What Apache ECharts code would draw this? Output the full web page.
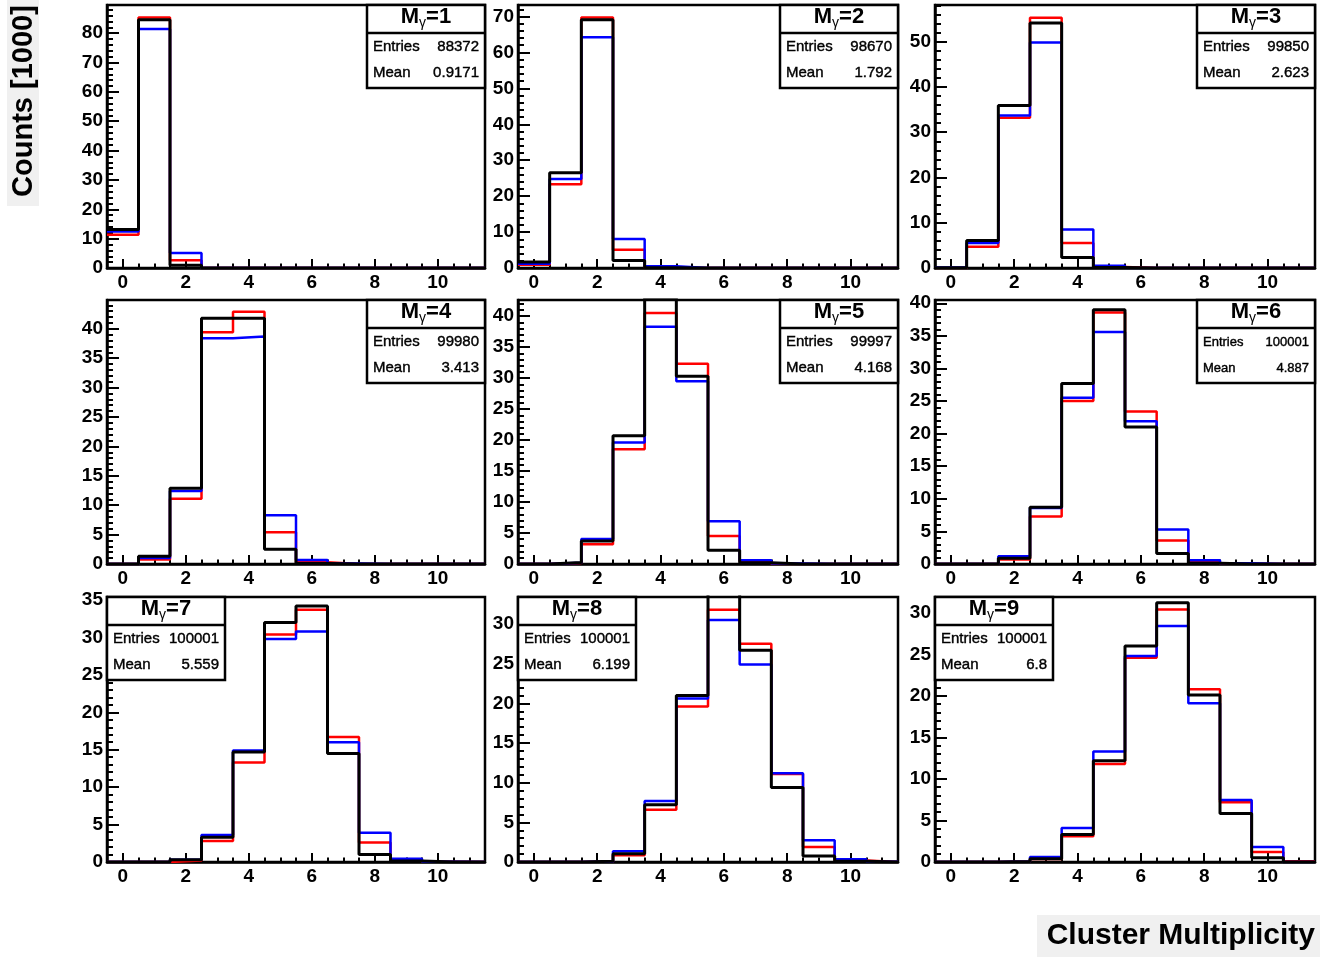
<!DOCTYPE html>
<html><head><meta charset="utf-8">
<script src="https://cdn.jsdelivr.net/npm/echarts@6/dist/echarts.min.js"></script>
<style>html,body{margin:0;padding:0;background:#fff}#c{width:1341px;height:957px}</style>
</head><body><div id="c"></div><script>
// ---------------- data (values in units of 1000 counts) ----------------
const binCenters = [0, 1, 2, 3, 4, 5, 6, 7, 8, 9, 10, 11];
const panelMultiplicity = [1, 2, 3, 4, 5, 6, 7, 8, 9];
const entries = ['88372', '98670', '99850', '99980', '99997', '100001', '100001', '100001', '100001'];
const means = ['0.9171', '1.792', '2.623', '3.413', '4.168', '4.887', '5.559', '6.199', '6.8'];

const blackCounts = [
  [13.1, 84.6, 0.9, 0, 0, 0, 0, 0, 0, 0, 0, 0],
  [1.7, 26.5, 69.1, 2.1, 0.05, 0, 0, 0, 0, 0, 0, 0],
  [0.05, 6.1, 35.9, 54.1, 2.3, 0.1, 0, 0, 0, 0, 0, 0],
  [0, 1.3, 12.9, 41.8, 41.8, 2.5, 0.1, 0, 0, 0, 0, 0],
  [0, 0.25, 3.7, 20.7, 43.0, 30.3, 2.2, 0.2, 0, 0, 0, 0],
  [0, 0.02, 0.9, 8.7, 27.7, 39.0, 21.0, 1.6, 0.1, 0, 0, 0],
  [0, 0, 0.3, 3.3, 14.7, 32.0, 34.2, 14.5, 1.0, 0.15, 0, 0],
  [0, 0, 0.1, 1.05, 7.2, 21.0, 34.5, 26.7, 9.4, 0.75, 0.1, 0],
  [0, 0, 0.05, 0.4, 3.3, 12.2, 26.0, 31.2, 20.1, 5.85, 0.5, 0]
];
const redCounts = [
  [11.3, 85.3, 2.6, 0, 0, 0, 0, 0, 0, 0, 0, 0],
  [0.9, 23.3, 69.7, 5.1, 0.1, 0, 0, 0, 0, 0, 0, 0],
  [0.02, 4.7, 33.2, 55.3, 5.5, 0.2, 0, 0, 0, 0, 0, 0],
  [0, 0.75, 11.1, 39.4, 42.9, 5.4, 0.3, 0.02, 0, 0, 0, 0],
  [0, 0.15, 3.2, 18.5, 40.5, 32.3, 4.5, 0.4, 0.02, 0, 0, 0],
  [0, 0, 0.7, 7.3, 25.0, 38.6, 23.4, 3.6, 0.4, 0.02, 0, 0],
  [0, 0, 0.2, 2.8, 13.3, 30.4, 33.7, 16.7, 2.6, 0.3, 0.02, 0],
  [0, 0, 0.05, 0.85, 6.6, 19.6, 31.8, 27.5, 11.1, 1.9, 0.2, 0],
  [0, 0, 0.05, 0.35, 3.1, 11.8, 24.6, 30.4, 20.8, 7.2, 1.2, 0.1]
];
const blueCounts = [
  [12.4, 81.4, 5.1, 0, 0, 0, 0, 0, 0, 0, 0, 0],
  [1.2, 24.8, 64.2, 8.1, 0.5, 0, 0, 0, 0, 0, 0, 0],
  [0.1, 5.5, 33.7, 49.8, 8.5, 0.5, 0, 0, 0, 0, 0, 0],
  [0, 1.0, 12.4, 38.4, 38.7, 8.3, 0.7, 0.1, 0, 0, 0, 0],
  [0, 0.2, 4.05, 19.6, 38.3, 29.5, 6.9, 0.6, 0.1, 0, 0, 0],
  [0, 0.02, 1.2, 8.6, 25.5, 35.6, 21.9, 5.3, 0.56, 0.1, 0, 0],
  [0, 0, 0.3, 3.6, 14.9, 29.8, 30.8, 16.0, 3.9, 0.45, 0.05, 0],
  [0, 0, 0.05, 1.35, 7.7, 20.6, 30.5, 24.9, 11.2, 2.75, 0.35, 0.02],
  [0, 0, 0.05, 0.6, 4.1, 13.3, 24.8, 28.4, 19.1, 7.45, 1.8, 0]
];

// axis settings
const yMax = [89.6, 73.2, 58.1, 44.9, 42.6, 40.5, 35.4, 33.4, 31.9];
const yMajorStep = [10, 10, 10, 5, 5, 5, 5, 5, 5];
const yMinorStep = [2, 2, 2, 1, 1, 1, 1, 1, 1];
const xTickLabels = [0, 2, 4, 6, 8, 10];
const xMinorStep = 0.5;
const xRange = [-0.5, 11.5];
const yAxisTitle = 'Counts [1000]';
const xAxisTitle = 'Cluster Multiplicity';

// ---------------- layout ----------------
const FONT = '"Liberation Sans", Arial, Helvetica, sans-serif';
const colLeft = [107, 518, 935], colWidth = [378, 380, 380];
const rowTop = [5, 300, 597], rowHeight = [263, 264, 265];

const ctx = document.createElement('canvas').getContext('2d');
function tw(t, size, weight) { ctx.font = (weight || 'normal') + ' ' + size + 'px ' + FONT; return ctx.measureText(t).width; }

function range(a, b, s) { const out = []; for (let v = a; v <= b + 1e-9; v += s) out.push(+v.toFixed(4)); return out; }
function histPoints(vals) {
  const pts = vals.map((v, k) => [binCenters[k] - 0.5, v]);
  pts.push([binCenters[binCenters.length - 1] + 0.5, vals[vals.length - 1]]);
  return pts;
}

const grids = [], xAxes = [], yAxes = [], series = [], graphics = [];
const labelStyle = { fontFamily: FONT, fontWeight: 'bold', fontSize: 19, color: '#000' };

for (let i = 0; i < 9; i++) {
  const r = Math.floor(i / 3), c = i % 3;
  const L = colLeft[c], T = rowTop[r], W = colWidth[c], H = rowHeight[r];
  grids.push({ left: L, top: T, width: W, height: H, show: true, borderColor: '#000', borderWidth: 2.5, backgroundColor: 'rgba(0,0,0,0)' });

  const xMinor = range(0, 11, xMinorStep);
  xAxes.push({
    gridIndex: i, type: 'value', min: xRange[0], max: xRange[1], position: 'bottom',
    axisLine: { show: true, onZero: false, lineStyle: { color: '#000', width: 2.5 } },
    axisTick: { show: true, inside: true, length: 9, customValues: xTickLabels, lineStyle: { color: '#000', width: 2 } },
    axisLabel: Object.assign({ show: true, margin: 5, customValues: xTickLabels }, labelStyle),
    splitLine: { show: false }
  });
  xAxes.push({
    gridIndex: i, type: 'value', min: xRange[0], max: xRange[1], position: 'bottom',
    axisLine: { show: false, onZero: false },
    axisTick: { show: true, inside: true, length: 4.5, customValues: xMinor, lineStyle: { color: '#000', width: 2 } },
    axisLabel: { show: false }, splitLine: { show: false }
  });
  const yMaj = range(0, yMax[i], yMajorStep[i]);
  const yMin = range(0, yMax[i], yMinorStep[i]);
  yAxes.push({
    gridIndex: i, type: 'value', min: 0, max: yMax[i], position: 'left',
    axisLine: { show: true, onZero: false, lineStyle: { color: '#000', width: 2.5 } },
    axisTick: { show: true, inside: true, length: 12, customValues: yMaj, lineStyle: { color: '#000', width: 2 } },
    axisLabel: Object.assign({ show: true, margin: 4, customValues: yMaj }, labelStyle),
    splitLine: { show: false }
  });
  yAxes.push({
    gridIndex: i, type: 'value', min: 0, max: yMax[i], position: 'left',
    axisLine: { show: false, onZero: false },
    axisTick: { show: true, inside: true, length: 6, customValues: yMin, lineStyle: { color: '#000', width: 2 } },
    axisLabel: { show: false }, splitLine: { show: false }
  });

  const mk = (name, vals, color, width, z) => ({
    type: 'line', name, xAxisIndex: 2 * i, yAxisIndex: 2 * i, data: histPoints(vals), step: 'end',
    symbol: 'none', clip: true, z, lineStyle: { color, width }, itemStyle: { color }, silent: true
  });
  series.push(mk('red' + i, redCounts[i], '#ff0000', 2.5, 2));
  series.push(mk('blue' + i, blueCounts[i], '#0000ff', 2.5, 3));
  series.push(mk('black' + i, blackCounts[i], '#000000', 3, 4));
  // invisible anchor series so the minor-tick axes are part of a coordinate system
  series.push({ type: 'line', name: 'anchor' + i, xAxisIndex: 2 * i + 1, yAxisIndex: 2 * i + 1,
    data: [[xRange[0], 0]], symbol: 'none', silent: true, lineStyle: { opacity: 0, width: 0 } });

  // stats box
  const bw = 118, bh = 83;
  const bx = r < 2 ? L + W - bw : L;
  const by = T;
  graphics.push({ type: 'rect', shape: { x: bx, y: by, width: bw, height: bh }, style: { fill: '#fff', stroke: '#000', lineWidth: 2.5 }, z: 100 });
  graphics.push({ type: 'line', shape: { x1: bx, y1: by + 28, x2: bx + bw, y2: by + 28 }, style: { stroke: '#000', lineWidth: 2.5 }, z: 101 });
  const tsz = 22, gsz = 14;
  const eqTxt = '=' + panelMultiplicity[i];
  const wM = tw('M', tsz, 'bold'), wG = tw('γ', gsz, 'normal'), wE = tw(eqTxt, tsz, 'bold');
  let x0 = bx + bw / 2 - (wM + wG + wE) / 2;
  const tStyle = (text, size, weight) => ({ text, fontSize: size, fontWeight: weight, fontFamily: FONT, fill: '#000', align: 'left', textAlign: 'left', verticalAlign: 'middle', textVerticalAlign: 'middle' });
  graphics.push({ type: 'text', x: x0, y: by + 12, style: tStyle('M', tsz, 'bold'), z: 102 });
  graphics.push({ type: 'text', x: x0 + wM, y: by + 18, style: tStyle('γ', gsz, 'normal'), z: 102 });
  graphics.push({ type: 'text', x: x0 + wM + wG, y: by + 12, style: tStyle(eqTxt, tsz, 'bold'), z: 102 });
  const ssz = (i === 5) ? 13 : 15;
  const rowText = (label, value, yy) => {
    const a = tStyle(label, ssz, 'normal'); a.stroke = '#000'; a.lineWidth = 0.4;
    graphics.push({ type: 'text', x: bx + 6, y: yy, style: a, z: 102 });
    const s = tStyle(value, ssz, 'normal'); s.align = 'right'; s.textAlign = 'right'; s.stroke = '#000'; s.lineWidth = 0.4;
    graphics.push({ type: 'text', x: bx + bw - 6, y: yy, style: s, z: 102 });
  };
  rowText('Entries', entries[i], by + 42);
  rowText('Mean', means[i], by + 68);
}

// axis titles
graphics.push({ type: 'rect', shape: { x: 7, y: 0, width: 32, height: 206 }, style: { fill: '#f0f0f0' }, z: 50 });
graphics.push({ type: 'text', x: 24, y: 101, rotation: Math.PI / 2,
  style: { text: yAxisTitle, fontSize: 29, fontWeight: 'bold', fontFamily: FONT, fill: '#000', align: 'center', textAlign: 'center', verticalAlign: 'middle', textVerticalAlign: 'middle' }, z: 51 });
graphics.push({ type: 'rect', shape: { x: 1037, y: 915, width: 283, height: 42 }, style: { fill: '#f0f0f0' }, z: 50 });
graphics.push({ type: 'text', x: 1315, y: 936,
  style: { text: xAxisTitle, fontSize: 30, fontWeight: 'bold', fontFamily: FONT, fill: '#000', align: 'right', textAlign: 'right', verticalAlign: 'middle', textVerticalAlign: 'middle' }, z: 51 });

const chart = echarts.init(document.getElementById('c'), null, { renderer: 'canvas' });
chart.setOption({
  animation: false,
  backgroundColor: '#fff',
  grid: grids, xAxis: xAxes, yAxis: yAxes, series,
  graphic: { elements: graphics }
});
</script></body></html>
